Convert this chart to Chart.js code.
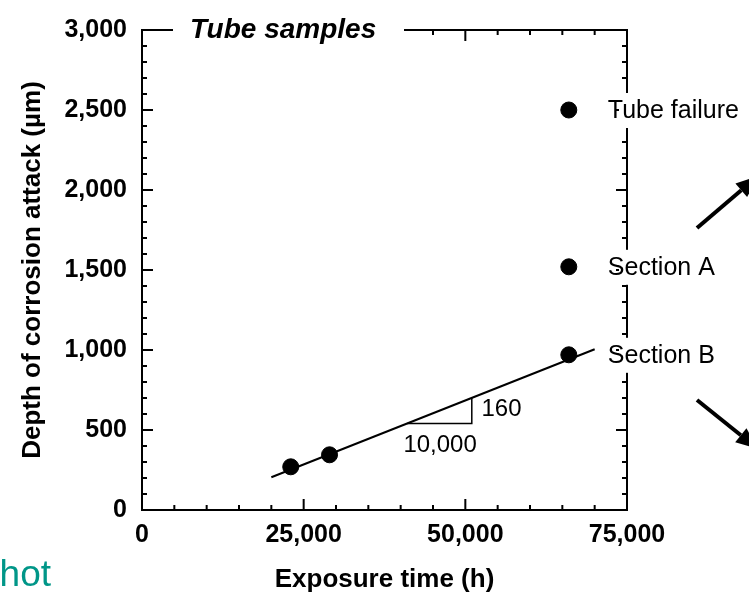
<!DOCTYPE html>
<html>
<head>
<meta charset="utf-8">
<script src="https://cdn.jsdelivr.net/npm/chart.js@4/dist/chart.umd.min.js"></script>
<style>
  body { margin: 0; background: #fff; }
  #wrap { width: 749px; height: 592px; }
</style>
</head>
<body>
<div id="wrap"><canvas id="corrosionChart" width="749" height="592"></canvas></div>
<script>
// samples (exposure time h, depth um)
const sampleX = [23000, 29000, 66000, 66000, 66000];
const sampleY = [270, 345, 970, 1520, 2500];
const sampleLabels = ['', '', 'Section B', 'Section A', 'Tube failure'];

// linear trend, 160 um per 10,000 h
const fitX = [20000, 70000];
const fitY = [205, 1005];

// slope triangle
const slopeX = [41000, 51000, 51000];
const slopeY = [540, 540, 700];
const slopeText = ['160', '10,000'];
const slopeTextX = [52500, 46100];
const slopeTextY = [628, 402];

const xMax = 75000, xStep = 25000, xMinor = 5000;
const yMax = 3000, yStep = 500, yMinor = 100;

const FONT = "'Liberation Sans', Arial, sans-serif";

const framePlugin = {
    id: 'frame',
    beforeDatasetsDraw(chart) {
        const {ctx, chartArea: a, scales: {x, y}} = chart;
        ctx.save();
        ctx.strokeStyle = '#000';
        ctx.lineWidth = 2;
        ctx.beginPath();
        ctx.rect(a.left, a.top, a.right - a.left, a.bottom - a.top);
        // ticks, pointing inwards on all four sides
        for (let v = xMinor; v < xMax; v += xMinor) {
            const px = x.getPixelForValue(v);
            const len = v % xStep === 0 ? 11 : 5;
            ctx.moveTo(px, a.bottom); ctx.lineTo(px, a.bottom - len);
            ctx.moveTo(px, a.top); ctx.lineTo(px, a.top + len);
        }
        for (let v = yMinor; v < yMax; v += yMinor) {
            const py = y.getPixelForValue(v);
            const len = v % yStep === 0 ? 11 : 5;
            ctx.moveTo(a.left, py); ctx.lineTo(a.left + len, py);
            ctx.moveTo(a.right, py); ctx.lineTo(a.right - len, py);
        }
        ctx.stroke();

        // title sits in a gap of the top axis
        ctx.fillStyle = '#fff';
        ctx.fillRect(173, a.top - 14, 231, 28);
        ctx.fillStyle = '#000';
        ctx.font = 'italic bold 28px ' + FONT;
        ctx.textAlign = 'left';
        ctx.textBaseline = 'middle';
        ctx.fillText('Tube samples', 190, a.top);
        ctx.restore();
    },
    afterDatasetsDraw(chart) {
        const {ctx, chartArea: a, scales: {x, y}} = chart;
        ctx.save();
        ctx.textBaseline = 'middle';

        // point labels, right axis broken behind them
        ctx.font = '25px ' + FONT;
        sampleLabels.forEach((t, i) => {
            if (!t) return;
            const px = x.getPixelForValue(sampleX[i]);
            const py = y.getPixelForValue(sampleY[i]);
            ctx.fillStyle = '#fff';
            ctx.fillRect(a.right - 8, py - 17, 16, 35);
            ctx.fillStyle = '#000';
            ctx.textAlign = 'left';
            ctx.fillText(t, px + 39, py + 1);
        });

        // slope triangle numbers
        ctx.font = '24px ' + FONT;
        slopeText.forEach((t, i) => {
            ctx.textAlign = i === 0 ? 'left' : 'center';
            ctx.fillText(t, x.getPixelForValue(slopeTextX[i]), y.getPixelForValue(slopeTextY[i]));
        });

        // arrows leaving the frame to the right
        const arrow = (x1, y1, x2, y2) => {
            const ang = Math.atan2(y2 - y1, x2 - x1);
            const hl = 22, hw = 9;
            const bx = x2 - hl * Math.cos(ang), by = y2 - hl * Math.sin(ang);
            ctx.strokeStyle = '#000';
            ctx.lineWidth = 4;
            ctx.beginPath();
            ctx.moveTo(x1, y1);
            ctx.lineTo(bx, by);
            ctx.stroke();
            ctx.beginPath();
            ctx.moveTo(x2, y2);
            ctx.lineTo(bx - hw * Math.sin(ang), by + hw * Math.cos(ang));
            ctx.lineTo(bx + hw * Math.sin(ang), by - hw * Math.cos(ang));
            ctx.closePath();
            ctx.fillStyle = '#000';
            ctx.fill();
        };
        arrow(697, 228, 758, 176);
        arrow(697, 400, 758, 449);

        // cut-off slide text
        ctx.fillStyle = '#009688';
        ctx.font = '37px ' + FONT;
        ctx.textAlign = 'right';
        ctx.textBaseline = 'alphabetic';
        ctx.fillText('hot', 51, 586);
        ctx.restore();
    }
};

const ctx = document.getElementById('corrosionChart').getContext('2d');
const corrosionChart = new Chart(ctx, {
    type: 'scatter',
    data: {
        datasets: [
            {
                label: 'Samples',
                data: sampleX.map((v, i) => ({x: v, y: sampleY[i]})),
                backgroundColor: '#000',
                borderColor: '#000',
                pointRadius: 8,
                order: 0
            },
            {
                label: 'Trend',
                data: fitX.map((v, i) => ({x: v, y: fitY[i]})),
                showLine: true,
                borderColor: '#000',
                borderWidth: 2,
                pointRadius: 0,
                order: 1
            },
            {
                label: 'Slope',
                data: slopeX.map((v, i) => ({x: v, y: slopeY[i]})),
                showLine: true,
                borderColor: '#000',
                borderWidth: 1.5,
                pointRadius: 0,
                order: 2
            }
        ]
    },
    options: {
        responsive: false,
        animation: false,
        layout: {padding: {left: 0, right: 122, top: 25, bottom: 0}},
        plugins: {legend: {display: false}, tooltip: {enabled: false}},
        scales: {
            x: {
                type: 'linear',
                min: 0,
                max: xMax,
                grid: {display: false, drawTicks: false},
                border: {display: false},
                ticks: {
                    stepSize: xStep,
                    padding: 10,
                    color: '#000',
                    font: {family: FONT, size: 25, weight: 'bold'},
                    callback: v => v.toLocaleString('en-US')
                },
                title: {
                    display: true,
                    text: 'Exposure time (h)',
                    color: '#000',
                    font: {family: FONT, size: 26, weight: 'bold'},
                    padding: {top: 0, bottom: -3}
                },
                afterFit: s => { s.height = 82; }
            },
            y: {
                type: 'linear',
                min: 0,
                max: yMax,
                grid: {display: false, drawTicks: false},
                border: {display: false},
                ticks: {
                    stepSize: yStep,
                    padding: 15,
                    color: '#000',
                    font: {family: FONT, size: 25, weight: 'bold'},
                    callback: v => v.toLocaleString('en-US')
                },
                title: {
                    display: true,
                    text: 'Depth of corrosion attack (µm)',
                    color: '#000',
                    font: {family: FONT, size: 26, weight: 'bold'},
                    padding: {top: 17, bottom: 0}
                },
                afterFit: s => { s.width = 142; }
            }
        }
    },
    plugins: [framePlugin]
});
</script>
</body>
</html>
